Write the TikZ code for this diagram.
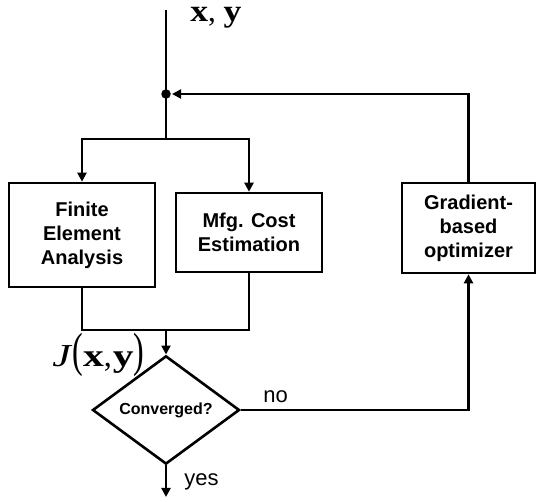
\documentclass[tikz,border=0pt]{standalone}
\usepackage{fontspec}
\setsansfont{Liberation Sans}
\setmainfont{Liberation Serif}
\usetikzlibrary{arrows.meta,shapes.geometric}
\newcommand{\wideit}[1]{\scalebox{1.3}[1]{#1}}
\newcommand{\tallparen}[1]{\scalebox{1}[1.5]{#1}}
\begin{document}
\begin{tikzpicture}[x=1pt,y=-1pt,line width=2.6pt,
  >={Triangle[length=9pt,width=9pt]},
  box/.style={draw,line width=2.6pt,align=center,inner sep=0pt,
    font=\sffamily\bfseries\fontsize{20}{24}\selectfont},
  lbl/.style={font=\sffamily\fontsize{22}{26}\selectfont,inner sep=0pt}]
\useasboundingbox (0,0) rectangle (536,502);
\node[box,minimum width=146pt,minimum height=104pt] (fea) at (82,235) {Finite\\Element\\Analysis};
\node[box,minimum width=146pt,minimum height=79pt] (mfg) at (249,232.5) {Mfg. Cost\\Estimation};
\node[box,minimum width=133pt,minimum height=90pt] (opt) at (468.5,228) {Gradient-\\based\\optimizer};
\node[diamond,draw,line width=2.6pt,minimum width=147pt,minimum height=73pt,inner sep=0pt,
  font=\sffamily\bfseries\fontsize{16}{19}\selectfont] (conv) at (166,410) {Converged?};
\node[circle,fill,inner sep=0pt,minimum size=9.5pt] (dot) at (166,94) {};
\coordinate (top) at (166,10);
\coordinate (split) at (166,139);
\coordinate (join) at (166,330);
\coordinate (exit) at (166,497);
\draw (top) -- (split);
\draw[->] (split) -| (fea.north);
\draw[->] (split) -| (mfg.north);
\draw (fea.south) |- (join) -| (mfg.south);
\draw[->] (join) -- (conv.north);
\draw[->] (conv.south) -- (exit);
\draw[->] (conv.east) -| (opt.south);
\draw[->] (opt.north) |- (dot);
\node[anchor=base west,inner sep=0pt,font=\fontsize{31}{33}\selectfont] (xy) at (189,22) {\scalebox{1.15}[1]{\textbf{x}}, \scalebox{1.15}[1]{\textbf{y}}};
\node[anchor=base west,inner sep=0pt,font=\fontsize{32}{34}\selectfont] (J) at (51,367) {\wideit{\textit{J}}\tallparen{(}\wideit{\textbf{x}},\kern1pt\wideit{\textbf{y}}\tallparen{)}};
\node[lbl,anchor=base west] (no) at (262,403) {no};
\node[lbl,anchor=base west] (yes) at (183,486) {yes};
\end{tikzpicture}
\end{document}
